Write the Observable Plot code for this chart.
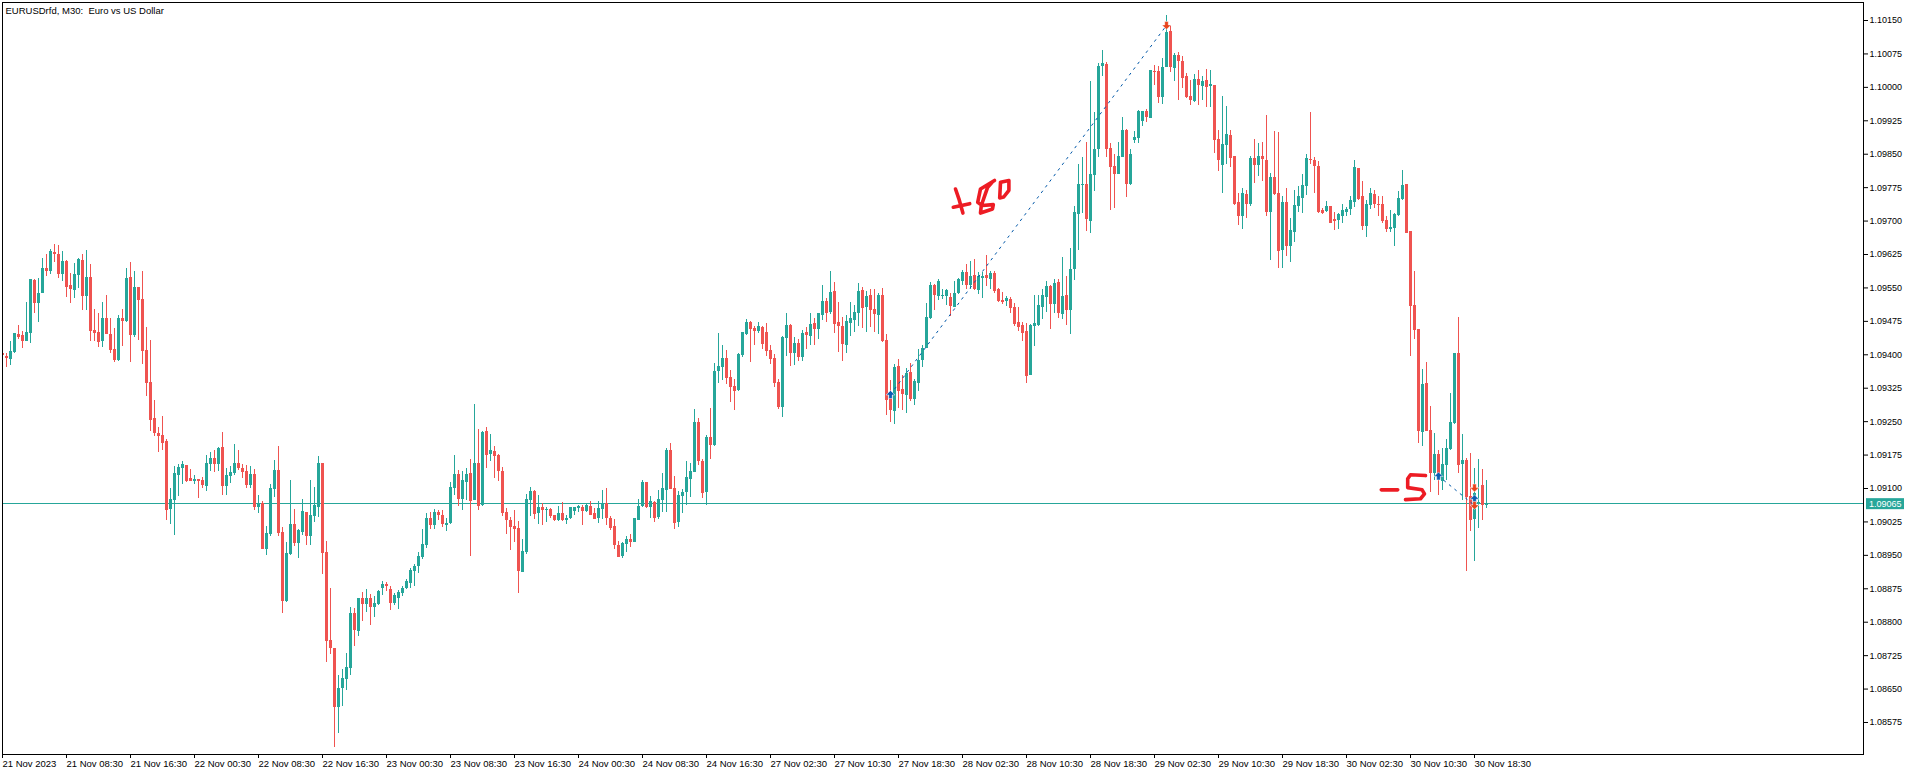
<!DOCTYPE html>
<html>
<head>
<meta charset="utf-8">
<script src="https://cdn.jsdelivr.net/npm/d3@7"></script>
<script src="https://cdn.jsdelivr.net/npm/@observablehq/plot@0.6"></script>
<style>
html,body{margin:0;padding:0;background:#fff;overflow:hidden}
svg{display:block}
svg text{white-space:pre}
</style>
</head>
<body>
<div id="chart"></div>
<script>
// All OHLC values are in points (1e-5) above 1.08000.
const priceBase = 1.08, pointSize = 1e-5;
const open = [1403,1396,1389,1405,1445,1443,1430,1448,1567,1515,
1537,1594,1587,1630,1625,1580,1609,1556,1544,1578,
1612,1531,1573,1455,1450,1430,1481,1445,1412,1387,
1481,1475,1573,1443,1551,1524,1410,1338,1257,1223,
1219,1205,1053,1073,1129,1145,1152,1122,1116,1120,
1118,1104,1154,1167,1154,1192,1104,1127,1134,1156,
1145,1138,1107,1131,1057,1066,963,997,1098,1140,
1001,846,952,1019,977,1001,1046,992,1037,1057,
1156,956,759,741,609,651,671,696,819,779,
853,840,853,833,840,876,885,873,842,853,
864,876,887,914,925,945,972,1033,1017,1046,
1039,1017,1021,1100,1131,1075,1113,1134,1073,1156,
1062,1228,1176,1183,1174,1138,1046,1028,1015,1010,
911,956,1073,1093,1044,1057,1051,1053,1039,1028,
1044,1028,1033,1048,1055,1057,1048,1060,1044,1033,
1053,1066,1033,1015,972,947,974,985,979,1028,
1060,1113,1057,1069,1035,1073,1095,1185,1100,1024,
1082,1091,1120,1136,1248,1160,1091,1214,1196,1362,
1371,1392,1349,1329,1320,1398,1445,1472,1459,1452,
1461,1450,1410,1392,1338,1282,1436,1466,1403,1425,
1394,1450,1441,1470,1457,1488,1520,1495,1542,1472,
1463,1421,1470,1477,1493,1544,1506,1533,1502,1488,
1533,1432,1302,1273,1374,1322,1309,1360,1300,1336,
1387,1414,1481,1555,1531,1531,1531,1529,1506,1538,
1564,1584,1555,1578,1544,1571,1578,1569,1582,1546,
1522,1519,1524,1506,1472,1466,1452,1353,1463,1466,
1506,1528,1553,1513,1562,1490,1533,1499,1591,1715,
1780,1782,1699,1802,1860,2047,2051,1863,1822,1804,
1843,1903,1782,1881,1885,1923,1946,1930,2036,2036,
1977,2045,2125,2042,2071,2058,2024,1979,1968,2018,
2002,2015,2002,2004,1883,1825,1870,1892,1845,1742,
1710,1760,1737,1840,1825,1845,1836,1719,1798,1762,
1634,1742,1643,1674,1733,1751,1778,1838,1836,1822,
1724,1721,1733,1703,1701,1710,1719,1726,1742,1818,
1755,1688,1735,1760,1737,1737,1701,1681,1683,1712,
1748,1782,1677,1510,1457,1226,1336,1230,1134,1176,
1116,1152,1187,1246,1403,1154,1163,1082,1030,1064,1107,1062];
const close = [1398,1392,1407,1448,1439,1430,1450,1569,1515,1537,
1594,1587,1632,1625,1580,1609,1551,1547,1580,1614,
1531,1573,1452,1448,1428,1481,1445,1410,1387,1481,
1475,1571,1443,1551,1522,1407,1336,1252,1223,1217,
1201,1051,1075,1134,1147,1154,1116,1116,1120,1116,
1107,1156,1167,1154,1190,1104,1129,1136,1156,1145,
1136,1107,1131,1057,1066,963,999,1100,1140,999,
846,954,1019,977,1006,1048,992,1039,1062,1156,
954,757,741,609,651,674,698,819,781,853,
840,853,833,842,869,885,880,842,860,867,
876,891,916,925,947,974,1033,1017,1046,1039,
1019,1021,1102,1131,1075,1118,1131,1071,1156,1060,
1226,1174,1185,1172,1138,1044,1028,1012,1008,914,
959,1075,1093,1042,1057,1051,1053,1037,1028,1044,
1028,1033,1057,1057,1060,1048,1062,1039,1030,1055,
1066,1033,1010,972,945,976,985,979,1033,1060,
1113,1057,1071,1033,1075,1100,1185,1098,1021,1084,
1091,1125,1138,1248,1160,1089,1214,1196,1362,1374,
1392,1347,1327,1318,1401,1450,1472,1457,1452,1463,
1423,1407,1389,1336,1282,1439,1466,1403,1425,1394,
1448,1443,1468,1457,1493,1520,1493,1540,1468,1463,
1423,1475,1481,1495,1542,1504,1531,1499,1490,1533,
1430,1297,1275,1371,1318,1311,1358,1300,1340,1387,
1414,1484,1555,1533,1564,1533,1544,1508,1538,1569,
1584,1555,1576,1546,1576,1576,1571,1582,1542,1519,
1517,1526,1504,1468,1461,1448,1351,1466,1470,1510,
1533,1553,1513,1560,1493,1531,1499,1591,1719,1782,
1782,1703,1804,1860,2047,2054,1860,1820,1804,1845,
1903,1782,1849,1887,1946,1946,1932,2038,2033,1977,
2045,2123,2045,2071,2058,2020,1977,1970,2018,2004,
2013,2000,2006,1881,1836,1872,1894,1840,1737,1710,
1762,1737,1840,1825,1845,1838,1719,1798,1760,1632,
1742,1643,1679,1735,1755,1780,1840,1836,1822,1719,
1717,1733,1695,1699,1715,1724,1726,1746,1820,1748,
1688,1737,1762,1737,1735,1699,1681,1686,1715,1751,
1780,1672,1508,1454,1228,1333,1228,1134,1176,1131,
1154,1190,1248,1403,1152,1163,1080,1028,1088,1069,1062,1066];
const high = [1403,1403,1430,1448,1466,1452,1517,1569,1569,1571,
1616,1625,1636,1647,1645,1632,1612,1582,1605,1616,
1625,1634,1603,1502,1493,1517,1533,1481,1459,1488,
1502,1594,1607,1587,1551,1587,1461,1432,1297,1237,
1261,1210,1100,1149,1154,1161,1152,1143,1129,1120,
1125,1174,1181,1185,1192,1226,1145,1149,1199,1185,
1154,1152,1149,1143,1084,1071,1015,1109,1163,1194,
1012,979,1118,1053,1008,1075,1046,1118,1102,1172,
1156,981,876,741,680,694,730,833,831,853,
867,873,862,858,871,891,889,880,864,871,
880,896,920,929,956,1008,1044,1046,1053,1051,
1051,1033,1113,1174,1140,1138,1145,1165,1289,1232,
1228,1237,1221,1194,1176,1147,1055,1035,1051,1026,
985,1086,1102,1095,1084,1066,1057,1055,1039,1060,
1069,1039,1057,1057,1062,1062,1064,1071,1055,1071,
1095,1100,1037,1030,981,979,992,997,1033,1075,
1118,1113,1082,1071,1095,1134,1190,1201,1127,1093,
1098,1160,1156,1277,1257,1165,1219,1279,1380,1448,
1421,1410,1365,1344,1403,1450,1479,1475,1463,1472,
1463,1470,1421,1401,1344,1441,1493,1468,1439,1434,
1454,1461,1493,1481,1493,1555,1526,1587,1562,1517,
1484,1488,1517,1511,1560,1551,1542,1546,1546,1538,
1549,1445,1342,1378,1389,1353,1369,1380,1344,1412,
1421,1515,1562,1558,1569,1546,1546,1538,1564,1571,
1589,1602,1609,1614,1584,1584,1623,1587,1587,1549,
1540,1531,1528,1515,1506,1472,1470,1468,1533,1533,
1546,1564,1555,1569,1569,1618,1576,1638,1733,1827,
1843,1876,2013,1944,2054,2083,2056,1874,1849,1876,
1932,1905,1860,1901,1948,1946,1950,2038,2049,2047,
2065,2161,2139,2076,2078,2069,2031,2015,2029,2038,
2024,2040,2038,2004,1903,1979,1957,1903,1845,1762,
1773,1769,1845,1883,1874,1876,1937,1807,1901,1899,
1755,1773,1706,1769,1778,1804,1849,1944,1843,1834,
1728,1744,1733,1719,1717,1737,1730,1755,1836,1818,
1789,1746,1773,1769,1755,1755,1710,1724,1717,1766,
1813,1782,1677,1587,1457,1367,1383,1284,1223,1185,
1190,1210,1313,1403,1484,1221,1167,1178,1145,1165,1143,1118];
const low = [1398,1371,1376,1403,1434,1414,1430,1425,1493,1472,
1537,1576,1580,1607,1571,1564,1529,1515,1526,1549,
1499,1499,1430,1430,1416,1416,1445,1403,1383,1385,
1419,1472,1383,1439,1432,1378,1306,1228,1217,1181,
1185,1028,1019,994,1082,1109,1113,1116,1109,1077,
1100,1093,1138,1136,1138,1084,1084,1111,1129,1140,
1122,1100,1100,1051,1044,963,950,992,1080,992,
819,844,950,970,943,994,972,972,1024,1035,
907,710,728,519,550,611,647,680,745,768,
802,822,793,811,837,860,869,826,837,828,
858,873,876,880,909,941,965,1008,1008,1028,
1012,1003,1019,1084,1060,1051,1073,947,1073,1051,
1059,1145,1160,1122,1116,1037,997,961,979,864,
911,952,1037,1030,1019,1017,1024,1033,1026,1026,
1026,1019,1030,1039,1046,1017,1046,1039,1030,1021,
1030,1017,1006,963,945,943,956,968,979,1028,
1057,1055,1033,1024,1030,1046,1046,1098,1008,1012,
1044,1062,1080,1136,1152,1077,1062,1165,1194,1336,
1342,1333,1293,1275,1318,1394,1443,1383,1421,1448,
1412,1396,1378,1327,1277,1259,1396,1374,1376,1385,
1385,1412,1421,1421,1434,1477,1472,1490,1448,1405,
1385,1403,1441,1450,1463,1459,1450,1461,1450,1445,
1428,1264,1248,1244,1279,1275,1268,1295,1286,1318,
1371,1414,1479,1499,1522,1524,1511,1486,1506,1535,
1555,1546,1546,1544,1535,1526,1553,1546,1537,1517,
1513,1508,1493,1463,1452,1430,1335,1353,1418,1463,
1479,1495,1457,1493,1481,1479,1466,1445,1567,1634,
1717,1677,1672,1766,1843,2024,1843,1724,1728,1804,
1843,1753,1780,1874,1874,1912,1921,1930,2004,1964,
1961,2045,2033,2013,1970,1997,1975,1959,1966,1959,
1970,1955,1955,1852,1811,1762,1827,1820,1735,1690,
1681,1706,1733,1784,1800,1789,1710,1611,1757,1594,
1594,1620,1607,1652,1719,1717,1757,1827,1762,1717,
1715,1719,1695,1679,1681,1695,1710,1712,1730,1746,
1679,1663,1726,1728,1710,1695,1674,1674,1643,1710,
1746,1672,1396,1434,1200,1194,1228,1091,1118,1084,
1095,1118,1185,1244,1134,1073,914,1003,936,1010,1028,1055];

const priceTicks = [1.08575,1.0865,1.08725,1.088,1.08875,1.0895,1.09025,1.091,1.09175,1.0925,1.09325,1.094,1.09475,1.0955,1.09625,1.097,1.09775,1.0985,1.09925,1.1,1.10075,1.1015];
const dateLabels = ["21 Nov 2023","21 Nov 08:30","21 Nov 16:30","22 Nov 00:30","22 Nov 08:30","22 Nov 16:30","23 Nov 00:30","23 Nov 08:30","23 Nov 16:30","24 Nov 00:30","24 Nov 08:30","24 Nov 16:30","27 Nov 02:30","27 Nov 10:30","27 Nov 18:30","28 Nov 02:30","28 Nov 10:30","28 Nov 18:30","29 Nov 02:30","29 Nov 10:30","29 Nov 18:30","30 Nov 02:30","30 Nov 10:30","30 Nov 18:30"];
const barsPerLabel = 16;
const lastPrice = 1.09065;
const titleText = "EURUSDrfd, M30:  Euro vs US Dollar";

// Trades: bar index and price (points above 1.08) of each arrow.
const buyArrows = [[222,1311],[359,1128],[368,1077]];
const sellArrows = [[291,2139],[368,1062],[368,1101]];
const tradeLines = [[[222,1311],[291,2139]],[[359,1128],[368,1062]]];

// Hand-drawn annotations, as bar index and points above 1.08.
const scrawlPlus80 = [
  [[238.25,1772],[239.1,1750],[240.1,1718]],
  [[237.7,1731],[241.8,1739]],
  [[248,1791],[244.5,1772],[243.8,1742],[244.9,1735],[247.7,1737],[247.5,1727],[244.5,1718],[244.7,1735],[246.3,1776],[247.4,1787]],
  [[249.5,1787],[251.6,1791],[251.6,1769],[250.3,1754],[249.3,1752],[249.5,1787]]
];
const scrawlMinus5 = [
  [[344.7,1097],[348.8,1097]],
  [[355.75,1129],[352,1131],[351.3,1122],[351.3,1102],[354.9,1097],[355.5,1088],[354.5,1077],[350.75,1075]]
];

const toPrice = v => priceBase + v * pointSize;
const bars = open.map((o, i) => ({
  i, open: toPrice(o), close: toPrice(close[i]), high: toPrice(high[i]), low: toPrice(low[i]),
  up: close[i] >= o
}));
const asPoints = list => list.map(([i, v]) => ({i, price: toPrice(v)}));
const asStrokes = list => list.flatMap((s, k) => s.map(([i, v]) => ({i, price: toPrice(v), k})));

const teal = "#26a69a", red = "#ef5350", ink = "#ed1c24", blue = "#0a5db4", orange = "#e8431c";
const face = "'Liberation Sans', Arial, sans-serif";
const colour = d => d.up ? teal : red;

const upArrow = {draw(c){c.moveTo(0,-4);c.lineTo(4.5,0.5);c.lineTo(1.8,0.5);c.lineTo(1.8,4);c.lineTo(-1.8,4);c.lineTo(-1.8,0.5);c.lineTo(-4.5,0.5);c.closePath();}};
const downArrow = {draw(c){c.moveTo(0,4);c.lineTo(4.5,-0.5);c.lineTo(1.8,-0.5);c.lineTo(1.8,-4);c.lineTo(-1.8,-4);c.lineTo(-1.8,-0.5);c.lineTo(-4.5,-0.5);c.closePath();}};

const chart = Plot.plot({
  width: 1916, height: 775,
  marginLeft: 2, marginRight: 53, marginTop: 2, marginBottom: 21,
  style: {fontFamily: face, background: "#fff", color: "#000"},
  x: {domain: [0, 465.25], axis: null},
  y: {domain: [1.085032, 1.101904], axis: null},
  marks: [
    Plot.ruleY([lastPrice], {stroke: teal, strokeWidth: 1, x1: 0, x2: 465.25, dy: -0.6, shapeRendering: "crispEdges"}),
    Plot.ruleX(bars, {x: "i", y1: "low", y2: "high", stroke: colour, strokeWidth: 1, clip: true, shapeRendering: "crispEdges"}),
    Plot.rect(bars, {
      x1: d => d.i - 0.25, x2: d => d.i + 0.5,
      y1: "open", y2: "close", fill: colour, clip: true, shapeRendering: "crispEdges"
    }),
    ...tradeLines.map(t => Plot.line(asPoints(t), {x: "i", y: "price", stroke: "#0057a8", strokeWidth: 1, strokeDasharray: "2 5"})),
    Plot.dot(asPoints(buyArrows), {x: "i", y: "price", symbol: upArrow, r: 4, fill: blue, stroke: "#fff", strokeWidth: 0.5}),
    Plot.dot(asPoints(sellArrows), {x: "i", y: "price", symbol: downArrow, r: 4, fill: orange, stroke: "#fff", strokeWidth: 0.5}),
    Plot.line(asStrokes(scrawlPlus80), {x: "i", y: "price", z: "k", stroke: ink, strokeWidth: 3.6, strokeLinecap: "round", strokeLinejoin: "round"}),
    Plot.line(asStrokes(scrawlMinus5), {x: "i", y: "price", z: "k", stroke: ink, strokeWidth: 3.6, strokeLinecap: "round", strokeLinejoin: "round"}),
    Plot.rect([lastPrice], {x1: 466, x2: 475.5, y1: d => d - 0.000125, y2: d => d + 0.000122, fill: teal}),
    Plot.text([lastPrice], {x: 466.6, y: d => d, text: d => d.toFixed(5), fill: "#fff", textAnchor: "start", fontSize: 9}),
    Plot.text([titleText], {frameAnchor: "top-left", dx: 3, dy: 5, text: d => d, fill: "#000", textAnchor: "start", fontSize: 9.5}),
    Plot.axisY({
      anchor: "right", ticks: priceTicks, tickFormat: d => d.toFixed(5), tickSize: 4, tickPadding: 2,
      label: null, fontSize: 9, stroke: "#000", fill: "#000"
    }),
    Plot.axisX({
      anchor: "bottom", ticks: dateLabels.map((_, k) => k * barsPerLabel),
      tickFormat: d => dateLabels[d / barsPerLabel], tickSize: 4, tickPadding: 2,
      textAnchor: "start", label: null, fontSize: 9.5, stroke: "#000", fill: "#000", dx: 0
    }),
    Plot.frame({stroke: "#000", strokeWidth: 1})
  ]
});
document.getElementById("chart").appendChild(chart);
</script>
</body>
</html>
